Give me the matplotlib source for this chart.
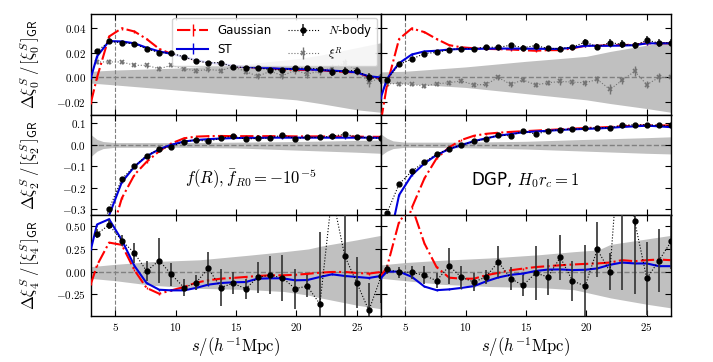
import matplotlib
matplotlib.use("Agg")
import matplotlib.pyplot as plt
from matplotlib.ticker import FuncFormatter, MultipleLocator

plt.rcParams['mathtext.fontset'] = 'cm'
plt.rcParams['font.family'] = 'DejaVu Sans'

# separation bins (N-body / xi^R), last one sits on the right edge
s = [3.5, 4.5, 5.55, 6.6, 7.6, 8.65, 9.65, 10.7, 11.7, 12.7, 13.75, 14.75,
     15.8, 16.8, 17.85, 18.85, 19.9, 20.9, 21.95, 22.95, 24.0, 25.0, 26.0, 27.02]
# model curves, with the values at the panel edges
s_mod = [3.0, 3.5, 4.5, 5.55, 6.6, 7.6, 8.65, 9.65, 10.7, 11.7, 12.7, 13.75, 14.75,
         15.8, 16.8, 17.85, 18.85, 19.9, 20.9, 21.95, 22.95, 24.0, 25.0, 26.0, 27.0]

''' monopole, f(R) '''
nb0_fr = [0.021, 0.029, 0.028, 0.027, 0.023, 0.020, 0.0196, 0.0165, 0.0135, 0.0117, 0.012, 0.0085,
          0.008, 0.0077, 0.0064, 0.006, 0.0077, 0.0074, 0.007, 0.0045, 0.0053, 0.0056, 0.0, -0.001]
nb0_fr_err = [0.002, 0.0015, 0.0015, 0.0015, 0.0015, 0.0015, 0.0015, 0.0015, 0.0015, 0.0015, 0.002, 0.002,
              0.002, 0.002, 0.002, 0.002, 0.0025, 0.0025, 0.0025, 0.003, 0.003, 0.003, 0.004, 0.004]
xr0_fr = [0.0125, 0.0125, 0.0125, 0.0098, 0.0098, 0.007, 0.0098, 0.007, 0.0053, 0.0065, 0.0055, 0.0088,
          0.0048, 0.001, 0.005, 0.0015, 0.0058, 0.0027, 0.0052, 0.0076, 0.0118, 0.006, -0.004, 0.0]
xr0_fr_err = [0.002, 0.002, 0.0015, 0.0015, 0.002, 0.002, 0.0015, 0.002, 0.002, 0.002, 0.002, 0.002,
              0.002, 0.0025, 0.0025, 0.003, 0.003, 0.003, 0.003, 0.003, 0.003, 0.004, 0.004, 0.004]
ga0_fr = [-0.02, 0.0, 0.033, 0.0396, 0.037, 0.031, 0.023, 0.019, 0.0165, 0.0135, 0.012, 0.011, 0.0095,
          0.0085, 0.008, 0.0075, 0.0065, 0.0062, 0.006, 0.006, 0.005, 0.0045, 0.004, 0.0005, -0.001]
st0_fr = [0.0, 0.017, 0.0293, 0.029, 0.0275, 0.024, 0.021, 0.019, 0.0165, 0.014, 0.012, 0.011, 0.0095,
          0.0085, 0.008, 0.0075, 0.007, 0.0068, 0.0065, 0.006, 0.0055, 0.005, 0.004, 0.001, 0.0]

''' monopole, DGP '''
nb0_dgp = [-0.0018, 0.0105, 0.0148, 0.0193, 0.0202, 0.0224, 0.0232, 0.0232, 0.0245, 0.0242, 0.026, 0.024,
           0.0257, 0.0234, 0.0233, 0.0245, 0.0285, 0.0248, 0.028, 0.0268, 0.0258, 0.030, 0.0278, 0.028]
nb0_dgp_err = [0.002, 0.002, 0.0015, 0.0015, 0.0015, 0.0015, 0.0015, 0.0015, 0.0015, 0.002, 0.002, 0.002,
               0.002, 0.002, 0.002, 0.002, 0.0025, 0.0025, 0.003, 0.003, 0.003, 0.003, 0.003, 0.003]
xr0_dgp = [-0.005, -0.005, -0.0056, -0.007, -0.005, -0.0043, -0.0027, -0.006, -0.0056, 0.0, -0.0056, -0.0019,
           -0.006, -0.0043, -0.0032, -0.0037, -0.0043, -0.0016, -0.0096, -0.0024, 0.005, -0.0058, 0.0, 0.0]
xr0_dgp_err = [0.0015, 0.0015, 0.0015, 0.0015, 0.0015, 0.002, 0.002, 0.002, 0.002, 0.002, 0.002, 0.002,
               0.002, 0.002, 0.0025, 0.0025, 0.0025, 0.003, 0.004, 0.003, 0.004, 0.003, 0.004, 0.004]
ga0_dgp = [-0.035, -0.006, 0.031, 0.0395, 0.0365, 0.031, 0.026, 0.0243, 0.0235, 0.023, 0.0228, 0.0225, 0.022,
           0.0215, 0.022, 0.022, 0.0235, 0.0255, 0.0255, 0.026, 0.026, 0.0265, 0.0275, 0.0275, 0.0275]
st0_dgp = [-0.016, -0.001, 0.0115, 0.0185, 0.021, 0.0215, 0.0225, 0.023, 0.023, 0.0232, 0.0233, 0.0233, 0.0232,
           0.0232, 0.023, 0.023, 0.024, 0.0255, 0.0255, 0.0255, 0.0257, 0.026, 0.0275, 0.0275, 0.0275]

''' quadrupole, f(R) '''
nb2_fr = [-0.45, -0.30, -0.16, -0.10, -0.051, -0.02, -0.009, 0.015, 0.022, 0.016, 0.030, 0.041,
          0.026, 0.030, 0.031, 0.046, 0.029, 0.034, 0.034, 0.041, 0.048, 0.038, 0.031, 0.032]
ga2_fr = [-1.0, -0.75, -0.45, -0.25, -0.14, -0.08, -0.03, 0.006, 0.03, 0.038, 0.04, 0.041, 0.04,
          0.04, 0.04, 0.04, 0.04, 0.039, 0.039, 0.039, 0.038, 0.038, 0.038, 0.037, 0.037]
st2_fr = [-0.8, -0.55, -0.33, -0.175, -0.102, -0.054, -0.021, 0.0, 0.015, 0.022, 0.026, 0.029, 0.031,
          0.032, 0.032, 0.033, 0.033, 0.033, 0.033, 0.033, 0.033, 0.033, 0.033, 0.033, 0.032]

''' quadrupole, DGP '''
nb2_dgp = [-0.318, -0.184, -0.124, -0.08, -0.045, -0.018, -0.002, 0.0156, 0.026, 0.046, 0.041, 0.066,
           0.049, 0.064, 0.071, 0.072, 0.076, 0.08, 0.079, 0.091, 0.093, 0.094, 0.09, 0.09]
ga2_dgp = [-1.0, -0.8, -0.48, -0.295, -0.157, -0.064, -0.012, 0.022, 0.042, 0.051, 0.056, 0.06, 0.063,
           0.066, 0.069, 0.072, 0.075, 0.078, 0.08, 0.083, 0.086, 0.089, 0.09, 0.09, 0.09]
st2_dgp = [-0.75, -0.5, -0.235, -0.142, -0.087, -0.048, -0.02, -0.002, 0.017, 0.03, 0.042, 0.05, 0.058,
           0.062, 0.065, 0.069, 0.072, 0.074, 0.076, 0.079, 0.083, 0.086, 0.089, 0.086, 0.082]

''' hexadecapole, f(R) '''
nb4_fr = [0.416, 0.515, 0.342, 0.204, 0.007, 0.122, -0.031, -0.176, -0.122, 0.035, -0.176, -0.128,
          -0.189, -0.063, -0.04, -0.07, -0.187, -0.161, -0.358, 0.85, 0.174, -0.124, -0.428, -0.05]
nb4_fr_err = [0.05, 0.05, 0.065, 0.11, 0.11, 0.25, 0.13, 0.09, 0.085, 0.185, 0.2, 0.12,
              0.11, 0.17, 0.21, 0.25, 0.22, 0.12, 0.8, 0.2, 1.2, 0.28, 0.3, 0.3]
ga4_fr = [-0.133, 0.07, 0.32, 0.295, 0.015, -0.18, -0.244, -0.207, -0.17, -0.122, -0.096, -0.078, -0.07,
          -0.059, -0.048, -0.041, -0.041, -0.035, -0.025, -0.012, -0.004, -0.004, -0.015, -0.022, -0.004]
st4_fr = [0.25, 0.52, 0.578, 0.348, 0.063, -0.126, -0.2, -0.207, -0.207, -0.18, -0.144, -0.126, -0.118,
          -0.115, -0.078, -0.074, -0.074, -0.096, -0.093, -0.059, -0.03, -0.048, -0.059, -0.07, -0.048]

''' hexadecapole, DGP '''
nb4_dgp = [0.024, -0.006, -0.007, -0.042, -0.1, 0.063, -0.063, -0.115, -0.058, 0.109, -0.078, -0.152,
           -0.016, -0.058, 0.156, -0.102, -0.159, 0.244, 0.0, 1.8, 0.556, -0.076, 0.12, 0.333]
nb4_dgp_err = [0.05, 0.06, 0.07, 0.1, 0.08, 0.2, 0.13, 0.1, 0.08, 0.17, 0.13, 0.12,
               0.3, 0.2, 0.25, 0.22, 0.45, 0.3, 0.2, 2.0, 0.8, 0.4, 0.35, 0.3]
ga4_dgp = [-0.05, 0.05, 0.55, 0.72, 0.31, 0.05, -0.067, -0.078, -0.078, -0.04, -0.015, 0.015, 0.033,
           0.05, 0.06, 0.07, 0.078, 0.085, 0.09, 0.1, 0.126, 0.115, 0.126, 0.133, 0.126]
st4_dgp = [-0.07, 0.0, 0.0, -0.057, -0.165, -0.205, -0.196, -0.18, -0.16, -0.108, -0.065, -0.035, -0.022,
           0.007, 0.022, 0.024, 0.017, 0.02, 0.035, 0.075, 0.1, 0.09, 0.09, 0.06, 0.06]

''' grey bands (GR scatter) '''
band0_s = [3, 5, 10, 15, 20, 22, 25, 27]
band0_fr_hi = [0.005, 0.006, 0.0075, 0.010, 0.015, 0.018, 0.024, 0.028]
band0_fr_lo = [-0.0045, -0.006, -0.010, -0.014, -0.018, -0.021, -0.026, -0.028]
band0_dgp_hi = [0.0045, 0.005, 0.0085, 0.013, 0.017, 0.021, 0.026, 0.029]
band0_dgp_lo = [-0.0045, -0.005, -0.008, -0.013, -0.018, -0.021, -0.025, -0.028]
band2_s = [3, 3.5, 4, 5, 10, 15, 20, 25, 27]
band2_fr_hi = [0.047, 0.025, 0.015, 0.010, 0.010, 0.012, 0.015, 0.020, 0.022]
band2_fr_lo = [-0.055, -0.03, -0.018, -0.012, -0.012, -0.015, -0.025, -0.035, -0.04]
band2_dgp_hi = [0.05, 0.03, 0.018, 0.012, 0.012, 0.016, 0.025, 0.033, 0.037]
band2_dgp_lo = [-0.05, -0.03, -0.018, -0.012, -0.014, -0.02, -0.03, -0.04, -0.043]
band4_s = [3, 5, 8, 12, 16, 19, 21, 22, 25, 27]
band4_fr_hi = [0.055, 0.08, 0.11, 0.13, 0.18, 0.22, 0.25, 0.28, 0.35, 0.40]
band4_fr_lo = [-0.075, -0.1, -0.15, -0.185, -0.198, -0.22, -0.26, -0.29, -0.37, -0.41]
band4_dgp_hi = [0.074, 0.1, 0.125, 0.15, 0.185, 0.22, 0.24, 0.30, 0.36, 0.40]
band4_dgp_lo = [-0.074, -0.1, -0.14, -0.165, -0.175, -0.2, -0.26, -0.29, -0.36, -0.40]

model_err = [0.001, 0.004, 0.01]

fig, axes = plt.subplots(3, 2, figsize=(7.13, 3.62), dpi=100, sharex=True, sharey='row')
fig.subplots_adjust(left=0.1276, right=0.941, top=0.961, bottom=0.127, hspace=0, wspace=0)

rows = [
    (band0_s, [(band0_fr_lo, band0_fr_hi), (band0_dgp_lo, band0_dgp_hi)],
     [nb0_fr, nb0_dgp], [nb0_fr_err, nb0_dgp_err], [ga0_fr, ga0_dgp], [st0_fr, st0_dgp]),
    (band2_s, [(band2_fr_lo, band2_fr_hi), (band2_dgp_lo, band2_dgp_hi)],
     [nb2_fr, nb2_dgp], [0.006, 0.006], [ga2_fr, ga2_dgp], [st2_fr, st2_dgp]),
    (band4_s, [(band4_fr_lo, band4_fr_hi), (band4_dgp_lo, band4_dgp_hi)],
     [nb4_fr, nb4_dgp], [nb4_fr_err, nb4_dgp_err], [ga4_fr, ga4_dgp], [st4_fr, st4_dgp]),
]

handles = []
for r, (bs, bands, nbs, nberrs, gas, sts) in enumerate(rows):
    for c in range(2):
        ax = axes[r, c]
        ax.fill_between(bs, bands[c][0], bands[c][1], color='#c0c0c0', lw=0, zorder=0)
        ax.axhline(0, color='0.5', ls='--', lw=1.0, zorder=1)
        ax.axvline(5, color='0.5', ls='--', lw=0.8, zorder=1)
        h_ga = ax.errorbar(s_mod, gas[c], yerr=model_err[r], color='red', ls='-.', lw=1.5,
                           elinewidth=1.0, zorder=3)
        h_st = ax.errorbar(s_mod, sts[c], yerr=model_err[r], color='#0000dd', ls='-', lw=1.5,
                           elinewidth=1.0, zorder=4)
        h_nb = ax.errorbar(s, nbs[c], yerr=nberrs[c], color='k', ls=':', lw=0.8, marker='o', ms=3.5,
                           ecolor='0.2', elinewidth=1.2, zorder=5)
        if r == 0:
            xr = [xr0_fr, xr0_dgp][c]
            xre = [xr0_fr_err, xr0_dgp_err][c]
            h_xr = ax.errorbar(s, xr, yerr=xre, color='0.45', ls=':', lw=0.8, marker='x', ms=3.5,
                               mew=1.2, elinewidth=1.0, zorder=2)
            handles = [h_ga, h_st, h_nb, h_xr]
        ax.tick_params(direction='in', top=True, right=True, length=4, width=0.8, labelsize=8)
        for sp in ax.spines.values():
            sp.set_linewidth(1.0)

axes[0, 0].set_xlim(3, 27)
axes[0, 0].xaxis.set_major_locator(MultipleLocator(5))
axes[0, 0].set_ylim(-0.03, 0.051)
axes[0, 0].yaxis.set_major_locator(MultipleLocator(0.02))
axes[1, 0].set_ylim(-0.33, 0.14)
axes[1, 0].yaxis.set_major_locator(MultipleLocator(0.1))
axes[2, 0].set_ylim(-0.49, 0.62)
axes[2, 0].yaxis.set_major_locator(MultipleLocator(0.25))

axes[0, 0].yaxis.set_major_formatter(FuncFormatter(lambda v, p: '$%.2f$' % v))
axes[1, 0].yaxis.set_major_formatter(FuncFormatter(lambda v, p: '$%.1f$' % v))
axes[2, 0].yaxis.set_major_formatter(FuncFormatter(lambda v, p: '$%.2f$' % v))
for ax in axes[2]:
    ax.xaxis.set_major_formatter(FuncFormatter(lambda v, p: '$%d$' % v))
    ax.set_xlabel(r'$s/(h^{-1}{\rm Mpc})$', fontsize=12, labelpad=2)

for r in range(3):
    axes[r, 0].set_ylabel(r'$\Delta\xi_%d^S\,/\,[\xi_%d^S]_{\mathsf{GR}}$' % (2 * r, 2 * r), fontsize=12)
    axes[r, 0].yaxis.set_label_coords(-0.17, 0.5)

axes[1, 0].text(0.55, 0.36, r'$f(R), \bar{f}_{R0}=-10^{-5}$', transform=axes[1, 0].transAxes,
                ha='center', va='center', fontsize=12)
axes[1, 1].text(0.497, 0.35, r'DGP, $H_0r_c=1$', transform=axes[1, 1].transAxes,
                ha='center', va='center', fontsize=12)

axes[0, 0].legend(handles, ['Gaussian', 'ST', r'$N$-body', r'$\xi^R$'], ncol=2, loc='upper right',
                  fontsize=8.5, handlelength=2.6, columnspacing=1.4, borderaxespad=0.3,
                  labelspacing=0.45, framealpha=0.85)

fig.savefig('out.png', dpi=100)
